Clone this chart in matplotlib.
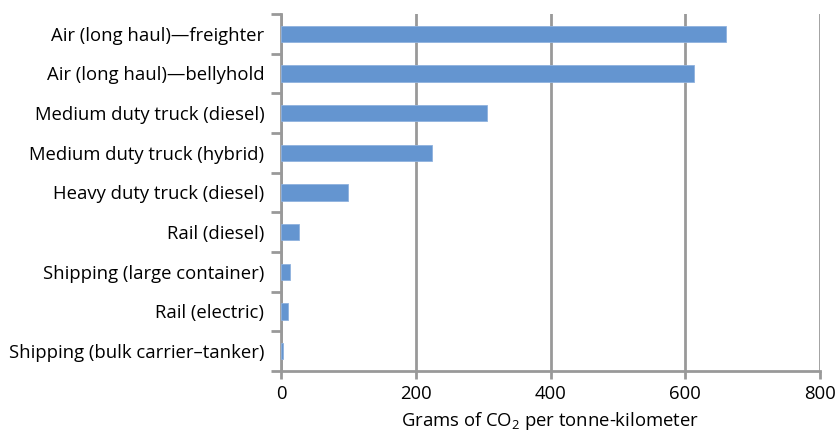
import matplotlib
matplotlib.use("Agg")
import matplotlib.pyplot as plt
import numpy as np

categories = [
    "Air (long haul)\u2014freighter",
    "Air (long haul)\u2014bellyhold",
    "Medium duty truck (diesel)",
    "Medium duty truck (hybrid)",
    "Heavy duty truck (diesel)",
    "Rail (diesel)",
    "Shipping (large container)",
    "Rail (electric)",
    "Shipping (bulk carrier\u2013tanker)",
]
values = [661, 613, 306, 224, 100, 26, 14, 10, 3]
xticks = [0, 200, 400, 600, 800]

plt.rcParams['font.family'] = ['Open Sans', 'DejaVu Sans']

fig = plt.figure(figsize=(8.35, 4.34), dpi=100)
ax = fig.add_axes([281/835, 1-371/434, (820-281)/835, (371-14)/434])

n = len(categories)
y = np.arange(n)
ax.barh(y, values, height=0.42, color='#6495d0', edgecolor='#8fb2de', linewidth=0.6, zorder=3)
ax.set_ylim(n-0.5, -0.5)
ax.set_xlim(0, 800)
ax.set_xticks(xticks)
ax.set_xticklabels([str(t) for t in xticks], fontsize=13.3)
ax.set_yticks(y)
ax.set_yticklabels(categories, fontsize=13.3)
ax.set_yticks(np.arange(-0.5, n, 1), minor=True)
ax.tick_params(axis='y', which='major', length=0, pad=12)
ax.tick_params(axis='y', which='minor', length=7, width=2, color='#999999', direction='out')
ax.tick_params(axis='x', which='major', length=6, width=2, color='#999999', direction='out', pad=4)

ax.grid(axis='x', color='#999999', linewidth=2, zorder=0)
ax.set_axisbelow(True)
for s in ['top', 'right']:
    ax.spines[s].set_visible(False)
for s in ['left', 'bottom']:
    ax.spines[s].set_color('#999999')
    ax.spines[s].set_linewidth(2)

ax.set_xlabel("Grams of CO$_\\mathregular{2}$ per tonne-kilometer", fontsize=13.3, labelpad=5)

fig.savefig("out.png", dpi=100)
